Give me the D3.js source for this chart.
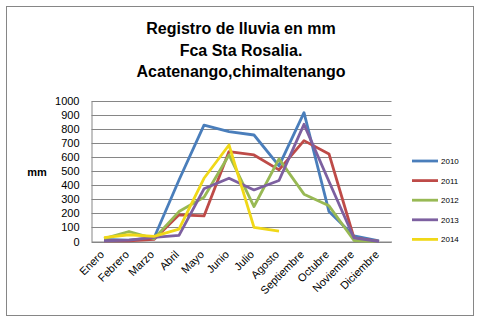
<!DOCTYPE html>
<html>
<head>
<meta charset="utf-8">
<script src="https://cdn.jsdelivr.net/npm/d3@7"></script>
<style>
  html, body { margin: 0; padding: 0; background: #fff; }
  svg { display: block; font-family: "Liberation Sans", Arial, sans-serif; }
</style>
</head>
<body>
<div id="chart"></div>
<script>
// Monthly rainfall (mm), Finca Santa Rosalía, Acatenango
const months = ["Enero", "Febrero", "Marzo", "Abril", "Mayo", "Junio", "Julio",
                "Agosto", "Septiembre", "Octubre", "Noviembre", "Diciembre"];
const years = ["2010", "2011", "2012", "2013", "2014"];
const colors = ["#4a7ebb", "#be4b48", "#98b954", "#7d60a0", "#f0d818"];

const rain2010 = [15, 10, 25, 438, 828, 782, 758, 538, 917, 213, 40, 5];
const rain2011 = [5, 5, 15, 190, 182, 640, 616, 510, 718, 623, 25, 0];
const rain2012 = [20, 71, 20, 213, 315, 616, 249, 588, 337, 254, 7, 0];
const rain2013 = [5, 10, 30, 43, 375, 450, 367, 434, 834, 427, 25, 0];
const rain2014 = [28, 48, 36, 88, 450, 687, 100, 74];

const yTicks = [0, 100, 200, 300, 400, 500, 600, 700, 800, 900, 1000];
const series = [rain2010, rain2011, rain2012, rain2013, rain2014];

const W = 481, H = 323;
const svg = d3.select("#chart").append("svg").attr("width", W).attr("height", H);

// outer frame
svg.append("rect").attr("x", 6.5).attr("y", 6.5).attr("width", 467).attr("height", 309)
  .attr("fill", "#fff").attr("stroke", "#868686").attr("stroke-width", 1);

// title
const title = ["Registro de lluvia en mm", "Fca Sta Rosalia.", "Acatenango,chimaltenango"];
svg.append("g").selectAll("text").data(title).join("text")
  .attr("x", 241).attr("y", (d, i) => 34 + i * 21.5)
  .attr("text-anchor", "middle").attr("font-weight", "bold").attr("font-size", 16)
  .attr("fill", "#000").text(d => d);

const x = d3.scaleBand().domain(months).range([91.5, 391.5]);
const y = d3.scaleLinear().domain([0, 1000]).range([241.5, 101]);

// gridlines
svg.append("g").selectAll("line").data(yTicks).join("line")
  .attr("x1", 91.5).attr("x2", 391.5)
  .attr("y1", d => Math.round(y(d)) + 0.5).attr("y2", d => Math.round(y(d)) + 0.5)
  .attr("stroke", "#868686").attr("stroke-width", 1);

// y axis
const yAxis = svg.append("g").attr("transform", "translate(91.5,0)")
  .call(d3.axisLeft(y).tickValues(yTicks).tickFormat(d3.format("d")).tickSize(0).tickPadding(12));
yAxis.select(".domain").attr("stroke", "#868686");
yAxis.selectAll("text").attr("font-size", 11).attr("fill", "#000")
  .attr("font-family", "'Liberation Sans', Arial, sans-serif");

// x axis
const xAxis = svg.append("g").attr("transform", "translate(0,241.5)")
  .call(d3.axisBottom(x).tickSize(0));
xAxis.select(".domain").attr("stroke", "#868686");
xAxis.selectAll("text")
  .attr("font-size", 11).attr("fill", "#000")
  .attr("font-family", "'Liberation Sans', Arial, sans-serif")
  .attr("text-anchor", "end")
  .attr("x", 0).attr("y", 0).attr("dy", "0.35em")
  .attr("transform", "translate(-2,11) rotate(-45)");

// y axis title
svg.append("text").attr("x", 37).attr("y", 176).attr("text-anchor", "middle")
  .attr("font-weight", "bold").attr("font-size", 11).text("mm");

// lines
const line = d3.line().x((d, i) => x(months[i]) + x.bandwidth() / 2).y(d => y(d));
svg.append("g").selectAll("path").data(series).join("path")
  .attr("d", d => line(d)).attr("fill", "none")
  .attr("stroke", (d, i) => colors[i]).attr("stroke-width", 2.8)
  .attr("stroke-linejoin", "round");

// legend
const lg = svg.append("g").selectAll("g").data(years).join("g")
  .attr("transform", (d, i) => `translate(412,${161 + i * 19.6})`);
lg.append("line").attr("x1", 0).attr("x2", 26).attr("stroke", (d, i) => colors[i])
  .attr("stroke-width", 2.8);
lg.append("text").attr("x", 29).attr("y", 3).attr("font-size", 8).text(d => d);
</script>
</body>
</html>
